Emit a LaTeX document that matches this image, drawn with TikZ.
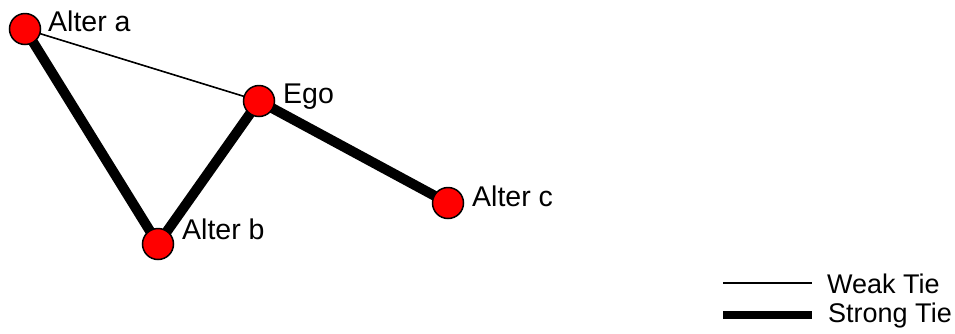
\documentclass[tikz,border=0pt]{standalone}
\usepackage{fontspec}
\setmainfont{Liberation Sans}
\begin{document}
\begin{tikzpicture}[x=1pt,y=-1pt,
  actor/.style={circle,draw=black,line width=1.5pt,fill=red,minimum size=31pt,inner sep=0pt},
  lbl/.style={anchor=base west,inner sep=0pt,font=\fontsize{28.5}{33}\selectfont},
  keytext/.style={anchor=base west,inner sep=0pt,font=\fontsize{27}{32}\selectfont},
  weak/.style={line width=1.6pt},
  strong/.style={line width=10pt}]
\useasboundingbox (0,0) rectangle (955,333);
% ties
\coordinate (pa) at (25,29);
\coordinate (pe) at (259,101);
\coordinate (pb) at (158,244);
\coordinate (pc) at (448,203);
\draw[weak] (pa) -- (pe);
\draw[strong] (pa) -- (pb);
\draw[strong] (pb) -- (pe);
\draw[strong] (pe) -- (pc);
% actors
\node[actor] (a) at (pa) {};
\node[actor] (e) at (pe) {};
\node[actor] (b) at (pb) {};
\node[actor] (c) at (pc) {};
\node[lbl] (la) at (48,31) {Alter a};
\node[lbl] (le) at (283,103) {Ego};
\node[lbl] (lb) at (182,239) {Alter b};
\node[lbl] (lc) at (472,206) {Alter c};
% legend
\coordinate (w1) at (723,283);
\coordinate (w2) at (812,283);
\coordinate (s1) at (723,315);
\coordinate (s2) at (812,315);
\draw[weak] (w1) -- (w2);
\draw[line width=7.5pt] (s1) -- (s2);
\node[keytext] (lw) at (827,293) {Weak Tie};
\node[keytext] (ls) at (828,322) {Strong Tie};
\end{tikzpicture}
\end{document}
